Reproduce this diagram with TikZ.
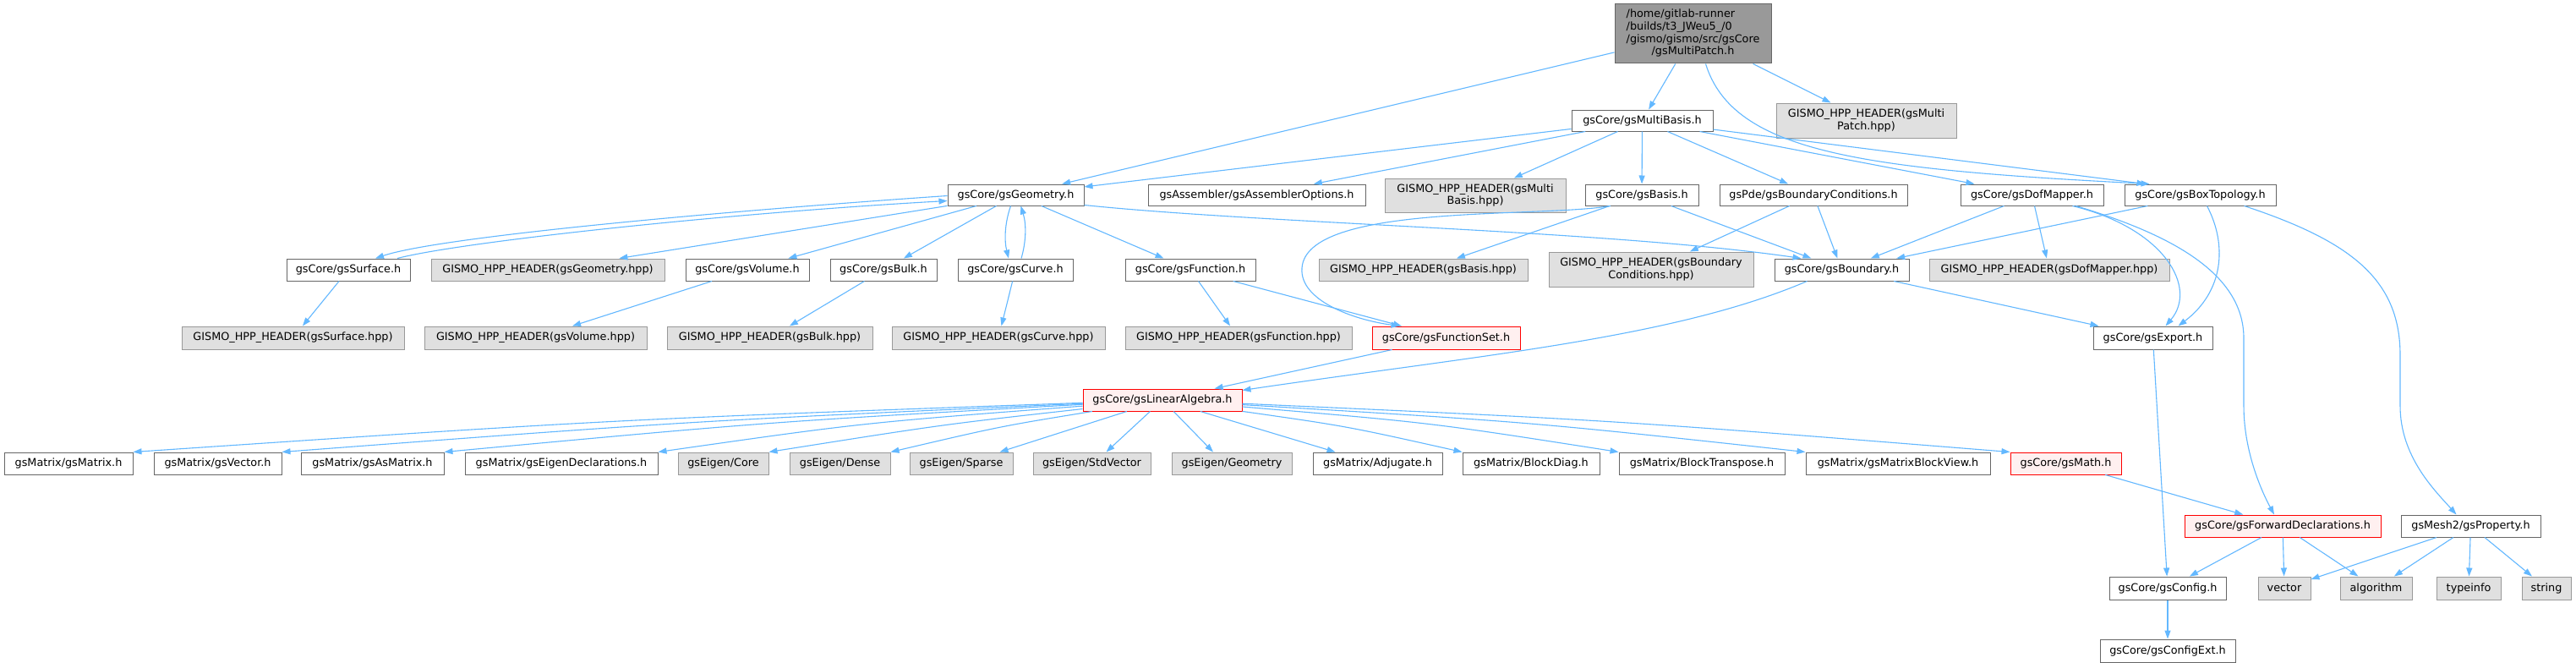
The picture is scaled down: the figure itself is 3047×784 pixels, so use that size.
\documentclass[tikz,border=0pt]{standalone}
\usepackage{fontspec}
\setmainfont{DejaVu Sans}
\usetikzlibrary{arrows.meta}
\definecolor{edgec}{HTML}{63B8FF}
\definecolor{bgray}{HTML}{999999}
\definecolor{fgray}{HTML}{E0E0E0}
\definecolor{dgray}{HTML}{666666}
\definecolor{redfill}{HTML}{FFF0F0}
\newcommand\nf{\fontsize{12.8}{14.7}\selectfont}
\tikzset{
 bx/.style={rectangle, inner sep=0pt, line width=1pt, font=\nf, align=center},
 wn/.style={bx, draw=dgray, fill=white},
 gn/.style={bx, draw=bgray, fill=fgray},
 rn/.style={bx, draw=red, fill=redfill},
 mn/.style={bx, draw=dgray, fill=bgray},
 e/.style={draw=edgec, line width=1.1pt, -{Triangle[length=10pt,width=7pt]}},
}
\begin{document}
\begin{tikzpicture}[x=1pt,y=-1pt]
\fill[white] (0,0) rectangle (3047,784);
\useasboundingbox (0,0) rectangle (3047,784);
% nodes
\node[mn, minimum width=185pt, minimum height=70pt] (mp) at (2002.5,40) {\begin{tabular}{@{}l@{}}/home/gitlab-runner\\/builds/t3\_JWeu5\_/0\\/gismo/gismo/src/gsCore\\\multicolumn{1}{@{}c@{}}{/gsMultiPatch.h}\end{tabular}};
\node[wn, minimum width=167pt, minimum height=25pt] (mb) at (1942.5,142.5) {gsCore/gsMultiBasis.h};
\node[gn, minimum width=213pt, minimum height=41pt] (hppMP) at (2207.5,142.5) {GISMO\_HPP\_HEADER(gsMulti\\Patch.hpp)};
% row 2
\node[wn, minimum width=161pt, minimum height=25pt] (geo) at (1201.5,230.5) {gsCore/gsGeometry.h};
\node[wn, minimum width=257pt, minimum height=25pt] (asm) at (1486.5,230.5) {gsAssembler/gsAssemblerOptions.h};
\node[gn, minimum width=214pt, minimum height=40pt] (hppMB) at (1745,231) {GISMO\_HPP\_HEADER(gsMulti\\Basis.hpp)};
\node[wn, minimum width=134pt, minimum height=25pt] (basis) at (1942,230.5) {gsCore/gsBasis.h};
\node[wn, minimum width=222pt, minimum height=25pt] (bc) at (2145,230.5) {gsPde/gsBoundaryConditions.h};
\node[wn, minimum width=169pt, minimum height=25pt] (dof) at (2403.5,230.5) {gsCore/gsDofMapper.h};
\node[wn, minimum width=179pt, minimum height=25pt] (box) at (2602.5,230.5) {gsCore/gsBoxTopology.h};
% row 3
\node[wn, minimum width=146pt, minimum height=26pt] (surf) at (412,319) {gsCore/gsSurface.h};
\node[gn, minimum width=276pt, minimum height=26pt] (hppGeo) at (648,319) {GISMO\_HPP\_HEADER(gsGeometry.hpp)};
\node[wn, minimum width=146pt, minimum height=26pt] (vol) at (884,319) {gsCore/gsVolume.h};
\node[wn, minimum width=126pt, minimum height=26pt] (bulk) at (1045,319) {gsCore/gsBulk.h};
\node[wn, minimum width=136pt, minimum height=26pt] (curve) at (1201,319) {gsCore/gsCurve.h};
\node[wn, minimum width=154pt, minimum height=26pt] (func) at (1408,319) {gsCore/gsFunction.h};
\node[gn, minimum width=247pt, minimum height=26pt] (hppBasis) at (1683.5,319) {GISMO\_HPP\_HEADER(gsBasis.hpp)};
\node[gn, minimum width=242pt, minimum height=41pt] (hppBC) at (1953,318.5) {GISMO\_HPP\_HEADER(gsBoundary\\Conditions.hpp)};
\node[wn, minimum width=159pt, minimum height=26pt] (bnd) at (2178.5,319) {gsCore/gsBoundary.h};
\node[gn, minimum width=284pt, minimum height=26pt] (hppDof) at (2424,319) {GISMO\_HPP\_HEADER(gsDofMapper.hpp)};
% row 4
\node[gn, minimum width=263pt, minimum height=27pt] (hppSurf) at (346.5,399.5) {GISMO\_HPP\_HEADER(gsSurface.hpp)};
\node[gn, minimum width=263pt, minimum height=27pt] (hppVol) at (633.5,399.5) {GISMO\_HPP\_HEADER(gsVolume.hpp)};
\node[gn, minimum width=243pt, minimum height=27pt] (hppBulk) at (910.5,399.5) {GISMO\_HPP\_HEADER(gsBulk.hpp)};
\node[gn, minimum width=252pt, minimum height=27pt] (hppCurve) at (1181,399.5) {GISMO\_HPP\_HEADER(gsCurve.hpp)};
\node[gn, minimum width=268pt, minimum height=27pt] (hppFunc) at (1465,399.5) {GISMO\_HPP\_HEADER(gsFunction.hpp)};
\node[rn, minimum width=175pt, minimum height=27pt] (fset) at (1710.5,399.5) {gsCore/gsFunctionSet.h};
\node[wn, minimum width=141pt, minimum height=27pt] (exp) at (2546.5,399.5) {gsCore/gsExport.h};
% row 5
\node[rn, minimum width=188pt, minimum height=26pt] (la) at (1375,473) {gsCore/gsLinearAlgebra.h};
% row 6
\node[wn, minimum width=152pt, minimum height=26pt] (m1) at (81,548) {gsMatrix/gsMatrix.h};
\node[wn, minimum width=151pt, minimum height=26pt] (m2) at (257.5,548) {gsMatrix/gsVector.h};
\node[wn, minimum width=169pt, minimum height=26pt] (m3) at (440.5,548) {gsMatrix/gsAsMatrix.h};
\node[wn, minimum width=228pt, minimum height=26pt] (m4) at (664,548) {gsMatrix/gsEigenDeclarations.h};
\node[gn, minimum width=107pt, minimum height=26pt] (m5) at (855.5,548) {gsEigen/Core};
\node[gn, minimum width=119pt, minimum height=26pt] (m6) at (993.5,548) {gsEigen/Dense};
\node[gn, minimum width=122pt, minimum height=26pt] (m7) at (1137,548) {gsEigen/Sparse};
\node[gn, minimum width=139pt, minimum height=26pt] (m8) at (1291.5,548) {gsEigen/StdVector};
\node[gn, minimum width=142pt, minimum height=26pt] (m9) at (1457,548) {gsEigen/Geometry};
\node[wn, minimum width=153pt, minimum height=26pt] (m10) at (1629.5,548) {gsMatrix/Adjugate.h};
\node[wn, minimum width=162pt, minimum height=26pt] (m11) at (1811,548) {gsMatrix/BlockDiag.h};
\node[wn, minimum width=196pt, minimum height=26pt] (m12) at (2013,548) {gsMatrix/BlockTranspose.h};
\node[wn, minimum width=218pt, minimum height=26pt] (m13) at (2245,548) {gsMatrix/gsMatrixBlockView.h};
\node[rn, minimum width=131pt, minimum height=26pt] (math) at (2443.5,548) {gsCore/gsMath.h};
% row 7
\node[rn, minimum width=232pt, minimum height=26pt] (fwd) at (2700,622) {gsCore/gsForwardDeclarations.h};
\node[wn, minimum width=165pt, minimum height=26pt] (prop) at (2922.5,622) {gsMesh2/gsProperty.h};
% row 8
\node[wn, minimum width=138pt, minimum height=27pt] (cfg) at (2564,695.5) {gsCore/gsConfig.h};
\node[gn, minimum width=62pt, minimum height=27pt] (vec) at (2702,695.5) {vector};
\node[gn, minimum width=85pt, minimum height=27pt] (alg) at (2810.5,695.5) {algorithm};
\node[gn, minimum width=76pt, minimum height=27pt] (tinfo) at (2920,695.5) {typeinfo};
\node[gn, minimum width=58pt, minimum height=27pt] (str) at (3012,695.5) {string};
% row 9
\node[wn, minimum width=160pt, minimum height=27pt] (cfgext) at (2564,769.5) {gsCore/gsConfigExt.h};
% edges from main
\draw[e] (mp) -- (geo);
\draw[e] (mp) -- (mb);
\draw[e] (mp) -- (hppMP);
\draw[e] ([xshift=15pt]mp.south) .. controls (2050,180) and (2200,200) .. ([xshift=-60pt]box.north);
% multibasis
\draw[e] (mb) -- (geo);
\draw[e] (mb) -- (asm);
\draw[e] (mb) -- (hppMB);
\draw[e] (mb) -- (basis);
\draw[e] (mb) -- (bc);
\draw[e] (mb) -- (dof);
\draw[e] (mb) -- ([xshift=-65pt]box.north);
% geometry
\draw[e] ([yshift=-1pt]geo.west) .. controls (850,250) and (520,280) .. ([xshift=32pt]surf.north);
\draw[e] ([xshift=58pt]surf.north) .. controls (545,286) and (860,252) .. ([yshift=-7pt]geo.west);
\draw[e] (geo) -- (hppGeo);
\draw[e] (geo) -- (vol);
\draw[e] (geo) -- (bulk);
\draw[e] ([xshift=-6pt]geo.south) .. controls (1188,265) and (1188,285) .. ([xshift=-8pt]curve.north);
\draw[e] ([xshift=7pt]curve.north) .. controls (1214,285) and (1214,265) .. ([xshift=6pt]geo.south);
\draw[e] (geo) -- (func);
\draw[e] ([yshift=-12pt]geo.east) .. controls (1500,265) and (1900,272) .. ([xshift=-48pt]bnd.north);
% basis
\draw[e] ([xshift=-37pt]basis.south) .. controls (1820,258) and (1545,240) .. (1540,317) .. controls (1537,355) and (1600,378) .. ([xshift=-55pt]fset.north);
\draw[e] (basis) -- (hppBasis);
\draw[e] (basis) -- (bnd);
% boundary conditions
\draw[e] (bc) -- (hppBC);
\draw[e] (bc) -- (bnd);
% dofmapper
\draw[e] (dof) -- (bnd);
\draw[e] (dof) -- (hppDof);
\draw[e] ([xshift=48pt]dof.south) .. controls (2560,270) and (2600,340) .. ([xshift=15pt]exp.north);
\draw[e] ([xshift=52pt]dof.south) .. controls (2560,275) and (2654,320) .. (2654,400) -- (2654,480) .. controls (2654,540) and (2680,590) .. ([xshift=-10pt]fwd.north);
% boxtopology
\draw[e] (box) -- (bnd);
\draw[e] ([xshift=8pt]box.south) .. controls (2635,290) and (2630,345) .. ([xshift=30pt]exp.north);
\draw[e] ([xshift=52pt]box.south) .. controls (2780,285) and (2839,330) .. (2839,420) -- (2839,480) .. controls (2839,540) and (2880,580) .. ([xshift=-17pt]prop.north);
% row 3 to row 4
\draw[e] (surf) -- (hppSurf);
\draw[e] (vol) -- (hppVol);
\draw[e] (bulk) -- (hppBulk);
\draw[e] (curve) -- (hppCurve);
\draw[e] (func) -- (hppFunc);
\draw[e] (func) -- (fset);
\draw[e] (fset) -- (la);
\draw[e] ([xshift=-41pt]bnd.south) .. controls (1980,400) and (1750,420) .. ([yshift=-2pt]la.north east);
\draw[e] (bnd) -- (exp);
\draw[e] (exp) -- (cfg);
% linear algebra fan
\draw[e] (la) .. controls (728,496) .. (m1.north east);
\draw[e] (la) .. controls (816,498) .. (m2.north east);
\draw[e] (la) .. controls (908,499) .. (m3.north east);
\draw[e] (la) .. controls (1020,500) .. (m4.north east);
\draw[e] (la) .. controls (1115,502) .. (m5.north east);
\draw[e] (la) .. controls (1184,504) .. (m6.north east);
\draw[e] (la) -- ([xshift=-16pt]m7.north east);
\draw[e] (la) -- ([xshift=17pt]m8.north);
\draw[e] (la) -- ([xshift=-22pt]m9.north);
\draw[e] (la) -- ([xshift=-50pt]m10.north);
\draw[e] (la) .. controls (1593,504) .. (m11.north west);
\draw[e] (la) .. controls (1694,500) .. (m12.north west);
\draw[e] (la) .. controls (1810,499) .. (m13.north west);
\draw[e] (la) .. controls (1909,497) .. (math.north west);
% bottom
\draw[e] (math) -- (fwd);
\draw[e] (fwd) -- (cfg);
\draw[e] (fwd) -- (vec);
\draw[e] (fwd) -- (alg);
\draw[e] (prop) -- (vec);
\draw[e] (prop) -- (alg);
\draw[e] (prop) -- (tinfo);
\draw[e] (prop) -- (str);
\draw[e] (cfg) -- (cfgext);
\end{tikzpicture}
\end{document}
